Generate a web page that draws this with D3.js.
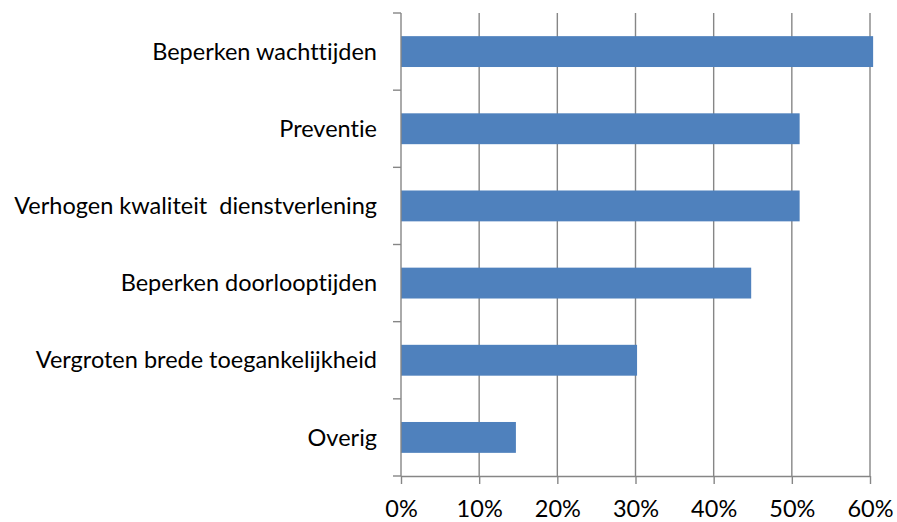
<!DOCTYPE html>
<html><head><meta charset="utf-8">
<script src="https://cdn.jsdelivr.net/npm/d3@7"></script>
<style>body{margin:0;background:#fff}svg{display:block}text{font-variant-ligatures:none;font-feature-settings:"liga" 0}</style>
</head><body>
<svg id="c" width="897" height="522"></svg>
<script>
const categories = ["Beperken wachttijden","Preventie","Verhogen kwaliteit  dienstverlening","Beperken doorlooptijden","Vergroten brede toegankelijkheid","Overig"];
const values = [60.4, 51.0, 51.0, 44.8, 30.2, 14.7];
const ticks = [0,10,20,30,40,50,60];
const tickLabels = ["0%","10%","20%","30%","40%","50%","60%"];

const svg = d3.select("#c");
const m = {left:401, right:870, top:13, bottom:476};
const x = d3.scaleLinear().domain([0,60]).range([m.left, m.right]);
const y = d3.scaleBand().domain(categories).range([m.top, m.bottom]).paddingInner(0.6).paddingOuter(0.3);
const font = "Lato, 'Open Sans', sans-serif";
const grey = "#868686";
const fs = "23.5px";

// gridlines
svg.append("g").selectAll("line").data(ticks.slice(1)).join("line")
  .attr("x1", d=>x(d)).attr("x2", d=>x(d)).attr("y1", m.top).attr("y2", m.bottom)
  .attr("stroke", grey).attr("stroke-width", 1.4);

// bars
svg.append("g").selectAll("rect").data(values).join("rect")
  .attr("x", x(0)).attr("y", (d,i)=>y(categories[i]))
  .attr("width", d=>x(d)-x(0)).attr("height", y.bandwidth())
  .attr("fill", "#4F81BD");

// x axis
const xa = svg.append("g").attr("transform", `translate(0,${m.bottom})`)
  .call(d3.axisBottom(x).tickValues(ticks).tickFormat((d,i)=>tickLabels[i]).tickSize(8).tickPadding(16));
xa.select(".domain").attr("stroke", grey).attr("stroke-width", 1.4).attr("d", `M${m.left},0.5H${m.right}`);
xa.selectAll(".tick line").attr("stroke", grey).attr("stroke-width", 1.4);
xa.selectAll("text").attr("fill","#000").style("font-family", font).style("font-size", fs);

// y axis
const step = (m.bottom - m.top)/categories.length;
const yb = d3.range(categories.length+1).map(i=>m.top + i*step);
svg.append("line").attr("x1", m.left).attr("x2", m.left).attr("y1", m.top).attr("y2", m.bottom)
  .attr("stroke", grey).attr("stroke-width", 1.4);
svg.append("g").selectAll("line").data(yb).join("line")
  .attr("x1", m.left-8).attr("x2", m.left).attr("y1", d=>d).attr("y2", d=>d)
  .attr("stroke", grey).attr("stroke-width", 1.4);
svg.append("g").selectAll("text").data(categories).join("text")
  .attr("x", m.left-24).attr("y", d=>y(d)+y.bandwidth()/2)
  .attr("dy","0.35em").attr("text-anchor","end")
  .style("font-family", font).style("font-size", fs).style("white-space","pre")
  .attr("fill","#000").text(d=>d);
</script>
</body></html>
